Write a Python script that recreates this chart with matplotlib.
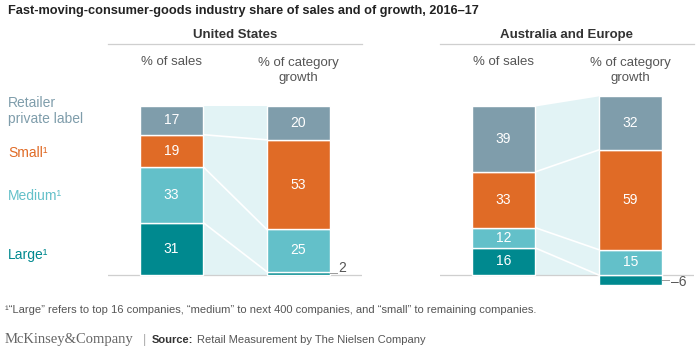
import matplotlib.pyplot as plt
import numpy as np

plt.rcParams['font.family'] = ['Liberation Sans', 'DejaVu Sans']

# segments from bottom to top
segments = ['Large', 'Medium', 'Small', 'Retailer private label']
seg_labels = ['Large\u00b9', 'Medium\u00b9', 'Small\u00b9', 'Retailer\nprivate label']
colors = ['#00898f', '#63c0c9', '#e06b26', '#7f9dab']

regions = ['United States', 'Australia and Europe']
us_sales = [31, 33, 19, 17]
us_growth = [2, 25, 53, 20]
eu_sales = [16, 12, 33, 39]
eu_growth = [-6, 15, 59, 32]

band_color = '#e2f3f5'
W, H = 700, 360
PX = 1.69          # pixels per percentage point
BASE = 275         # baseline pixel (from top)
YMIN, YMAX = -10, 110

fig = plt.figure(figsize=(7, 3.6), dpi=100)


def stack(vals):
    pos = 0
    neg = 0
    bottoms = []
    for v in vals:
        if v >= 0:
            bottoms.append(pos)
            pos += v
        else:
            bottoms.append(neg)
            neg += v
    return bottoms, pos


def draw_region(left_px, title, sales, growth):
    bottom_px = BASE - YMIN * PX
    ax = fig.add_axes([left_px / W, (H - bottom_px) / H, 254 / W, (YMAX - YMIN) * PX / H])
    ax.set_xlim(-0.5, 1.5)
    ax.set_ylim(YMIN, YMAX)
    ax.axis('off')
    w = 0.5

    sb, stop = stack(sales)
    gb, gtop = stack(growth)

    # connecting band (from the baseline up to the bar tops)
    xs = [w / 2, 1 - w / 2]
    ax.fill_between(xs, [0, 0], [stop, gtop], color=band_color, lw=0, zorder=0)

    ax.axhline(0, color='#cfcfcf', lw=0.9, zorder=1)

    for i in range(len(segments)):
        ax.bar(0, sales[i], bottom=sb[i], width=w, color=colors[i], edgecolor='white', lw=1, zorder=2)
        ax.bar(1, growth[i], bottom=gb[i], width=w, color=colors[i], edgecolor='white', lw=1, zorder=2)
        ax.text(0, sb[i] + sales[i] / 2, str(sales[i]), ha='center', va='center',
                color='white', fontsize=10, zorder=3)
        mid = gb[i] + growth[i] / 2
        if abs(growth[i]) >= 8:
            ax.text(1, mid, str(growth[i]), ha='center', va='center',
                    color='white', fontsize=10, zorder=3)
        else:
            txt = str(growth[i]).replace('-', '\u2013')
            ax.plot([1 + w / 2, 1 + w / 2 + 0.05], [mid] * 2,
                    color='#9a9a9a', lw=0.7, zorder=3)
            ax.text(1 + w / 2 + 0.065, mid + (3 if growth[i] > 0 else -1), txt,
                    ha='left', va='center', color='#555555', fontsize=10, zorder=3)

    # white connector lines at segment boundaries
    for i in range(1, len(segments)):
        ax.plot(xs, [sb[i], gb[i]], color='white', lw=1.2, zorder=1.5)

    # headers
    cx = (left_px + 127) / W
    fig.text(cx, 1 - 35 / H, title, ha='center', va='center', fontsize=9.5,
             fontweight='bold', color='#333333')
    fig.add_artist(plt.Line2D([left_px / W, (left_px + 254) / W], [1 - 44 / H] * 2,
                              color='#cfcfcf', lw=0.9))
    fig.text((left_px + 63.5) / W, 1 - 62 / H, '% of sales', ha='center', va='center',
             fontsize=9.5, color='#555555')
    fig.text((left_px + 190.5) / W, 1 - 70.5 / H, '% of category\ngrowth', ha='center',
             va='center', fontsize=9.5, color='#555555', linespacing=1.3)
    return ax


draw_region(108, regions[0], us_sales, us_growth)
draw_region(440, regions[1], eu_sales, eu_growth)

fig.text(8 / W, 1 - 11 / H,
         'Fast-moving-consumer-goods industry share of sales and of growth, 2016\u201317',
         ha='left', va='center', fontsize=9.2, fontweight='bold', color='#222222')

label_y = [255, 196, 153, 111]
for lab, c, y in zip(seg_labels, colors, label_y):
    fig.text(8 / W, 1 - y / H, lab, ha='left', va='center', fontsize=10, color=c,
             linespacing=1.15)

fig.text(5 / W, 1 - 310 / H,
         '\u00b9\u201cLarge\u201d refers to top 16 companies, \u201cmedium\u201d to next 400 companies, '
         'and \u201csmall\u201d to remaining companies.',
         ha='left', va='center', fontsize=8, color='#555555')
fig.text(5 / W, 1 - 340 / H, 'McKinsey&Company', ha='left', va='center', fontsize=10.5,
         color='#666666', family='Liberation Serif')
fig.text(143 / W, 1 - 340 / H, '|', ha='left', va='center', fontsize=9, color='#aaaaaa')
src = fig.text(152 / W, 1 - 340 / H, 'Source:', ha='left', va='center', fontsize=8,
               fontweight='bold', color='#333333')
renderer = fig.canvas.get_renderer()
bb = src.get_window_extent(renderer)
fig.text((bb.x1 + 4) / W, 1 - 340 / H, 'Retail Measurement by The Nielsen Company',
         ha='left', va='center', fontsize=8, color='#555555')

fig.savefig('out.png', dpi=100)
